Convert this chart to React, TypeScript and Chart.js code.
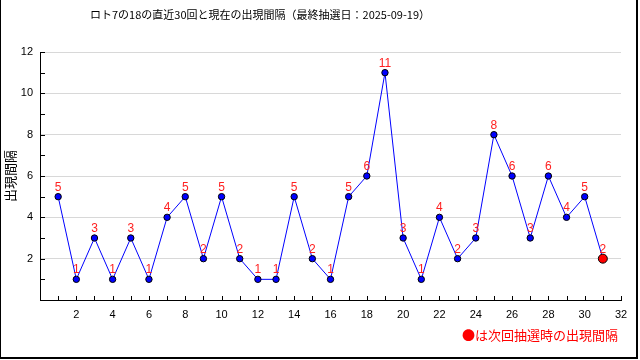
import { useEffect, useRef } from "react";
import { Chart, registerables } from "chart.js";

Chart.register(...registerables);

const TITLE = "ロト7の18の直近30回と現在の出現間隔（最終抽選日：2025-09-19）";
const Y_TITLE = "出現間隔";
const NOTE = "●は次回抽選時の出現間隔";

// past 30 draws' appearance intervals (x = 1..30) and the current one (x = 31)
const pastIntervals = [5, 1, 3, 1, 3, 1, 4, 5, 2, 5, 2, 1, 1, 5, 2, 1, 5, 6, 11, 3, 1, 4, 2, 3, 8, 6, 3, 6, 4, 5];
const currentInterval = 2;
const xTicks = [2, 4, 6, 8, 10, 12, 14, 16, 18, 20, 22, 24, 26, 28, 30, 32];
const yTicks = [2, 4, 6, 8, 10, 12];

const CJK = '"Noto Sans CJK JP", sans-serif';
const NUM = '"Liberation Sans", sans-serif';

export default function App() {
  const ref = useRef<HTMLCanvasElement | null>(null);
  useEffect(() => {
    const canvas = ref.current;
    if (!canvas) return;
    const values = [...pastIntervals, currentInterval];
    const data = values.map((v, i) => ({ x: i + 1, y: v }));
    const n = values.length;

    const overlay = {
      id: "overlay",
      afterDraw(chart: any) {
        const ctx = chart.ctx as CanvasRenderingContext2D;
        const xs = chart.scales.x;
        const ys = chart.scales.y;
        const area = chart.chartArea;
        ctx.save();
        // inner ticks
        ctx.strokeStyle = "#000";
        ctx.lineWidth = 1;
        ctx.beginPath();
        for (let v = 1; v <= 32; v++) {
          const px = Math.round(xs.getPixelForValue(v)) + 0.5;
          ctx.moveTo(px, area.bottom);
          ctx.lineTo(px, area.bottom - 4);
        }
        for (let v = 1; v <= 12; v++) {
          const py = Math.round(ys.getPixelForValue(v)) + 0.5;
          ctx.moveTo(area.left, py);
          ctx.lineTo(area.left + 5, py);
        }
        ctx.stroke();

        // data labels
        const meta = chart.getDatasetMeta(0);
        ctx.fillStyle = "#ff2020";
        ctx.font = `12px ${NUM}`;
        ctx.textAlign = "center";
        ctx.textBaseline = "alphabetic";
        meta.data.forEach((pt: any, i: number) => {
          ctx.fillText(String(values[i]), pt.x, pt.y - 6);
        });

        // title
        ctx.fillStyle = "#000";
        ctx.font = `11px ${CJK}`;
        ctx.textAlign = "center";
        ctx.textBaseline = "middle";
        ctx.fillText(TITLE, 260, 15);

        // y title
        ctx.save();
        ctx.translate(10, (area.top + area.bottom) / 2);
        ctx.rotate(-Math.PI / 2);
        ctx.font = `13px ${CJK}`;
        ctx.fillText(Y_TITLE, 0, 0);
        ctx.restore();

        // note
        ctx.fillStyle = "#ff0000";
        ctx.font = `13px ${CJK}`;
        ctx.textAlign = "right";
        ctx.textBaseline = "middle";
        ctx.fillText(NOTE, 618, 335);

        // frame
        ctx.fillStyle = "#000";
        ctx.fillRect(0, 0, 1, 359);
        ctx.fillRect(636, 0, 2, 359);
        ctx.fillRect(0, 357, 638, 2);
        ctx.restore();
      },
    };

    const chart = new Chart(canvas, {
      type: "line",
      data: {
        datasets: [
          {
            data,
            borderColor: "#0000ff",
            borderWidth: 1,
            pointBackgroundColor: values.map((_, i) => (i === n - 1 ? "#ff0000" : "#0000ff")),
            pointBorderColor: "#000",
            pointBorderWidth: 1,
            pointRadius: values.map((_, i) => (i === n - 1 ? 4.5 : 3.2)),
            tension: 0,
            fill: false,
          },
        ],
      },
      options: {
        responsive: false,
        animation: false,
        events: [],
        layout: { padding: { top: 52, right: 19, left: 0, bottom: 0 } },
        plugins: { legend: { display: false }, title: { display: false }, tooltip: { enabled: false } },
        scales: {
          x: {
            type: "linear",
            min: 0,
            max: 32,
            afterFit(scale: any) {
              scale.height = 60;
            },
            afterBuildTicks(scale: any) {
              scale.ticks = xTicks.map((v) => ({ value: v }));
            },
            grid: { display: false, drawTicks: false },
            border: { display: true, color: "#000", width: 1 },
            ticks: { color: "#000", font: { family: NUM, size: 11 }, padding: 8, maxRotation: 0, autoSkip: false },
          },
          y: {
            type: "linear",
            min: 0,
            max: 12,
            afterFit(scale: any) {
              scale.width = 40;
            },
            afterBuildTicks(scale: any) {
              scale.ticks = yTicks.map((v) => ({ value: v }));
            },
            grid: { color: "#d8d8d8", lineWidth: 1, drawTicks: false },
            border: { display: true, color: "#000", width: 1 },
            ticks: { color: "#000", font: { family: NUM, size: 11 }, padding: 7, autoSkip: false },
          },
        },
      },
      plugins: [overlay],
    });
    return () => chart.destroy();
  }, []);

  return (
    <div style={{ position: "fixed", left: 0, top: 0, width: 640, height: 360, background: "#fff" }}>
      <canvas ref={ref} width={640} height={360} style={{ display: "block" }} />
    </div>
  );
}
